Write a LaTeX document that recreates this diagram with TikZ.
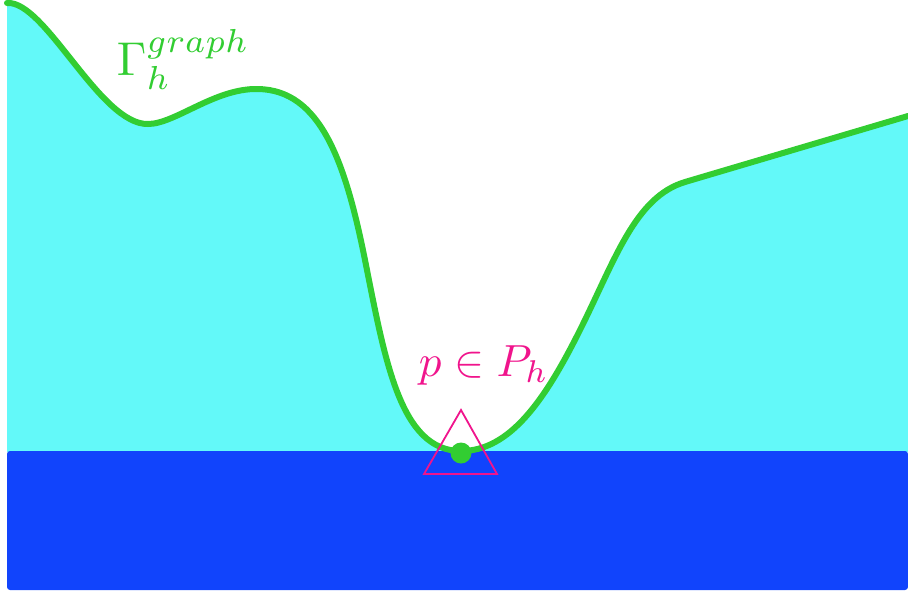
\documentclass[tikz,border=0pt]{standalone}
\usepackage{tikz}
\usetikzlibrary{calc}
\definecolor{landcyan}{RGB}{99,249,249}
\definecolor{seablue}{RGB}{17,68,252}
\definecolor{graphgreen}{RGB}{50,205,50}
\definecolor{pointpink}{RGB}{240,20,140}
\tikzset{
 graphline/.style={draw=graphgreen,line width=6pt,line cap=round},
 landfill/.style={fill=landcyan},
 sea/.style={fill=seablue,rounded corners=3pt},
 marker/.style={draw=pointpink,line width=1.8pt,line join=miter},
 pointdot/.style={circle,fill=graphgreen,minimum size=21pt,inner sep=0},
 greenlabel/.style={text=graphgreen,inner sep=0,scale=4.75},
 pinklabel/.style={text=pointpink,inner sep=0,scale=4.5}
}
\begin{document}
\begin{tikzpicture}[x=1pt,y=-1pt]
\path[use as bounding box] (0,0) rectangle (908,595);
% the graph of the height function
\def\graphpath{(7,3) .. controls (45,0) and (100,125) .. (148,124)
 .. controls (175,124) and (215,88) .. (258,89)
 .. controls (320,90) and (345,160) .. (365,260)
 .. controls (385,360) and (400,451) .. (461,451)
 .. controls (510,451) and (545,400) .. (580,330)
 .. controls (615,260) and (635,197) .. (685,182)
 -- (908,116)}
\fill[landfill] \graphpath -- (908,452) -- (7,452) -- cycle;
\path[sea] (7,451) rectangle (908,590);
\draw[graphline] \graphpath;
\node[pointdot] (p) at (461,453) {};
\coordinate (tl) at (424,474);
\coordinate (tr) at (497,474);
\coordinate (tt) at (461,410);
\draw[marker] (tl) -- (tr) -- (tt) -- cycle;
\node[greenlabel,anchor=base west] (gamma) at (116,75) {$\Gamma_h^{graph}$};
\node[pinklabel,anchor=base west] (plabel) at (418,376) {$p\in P_h$};
\end{tikzpicture}
\end{document}
